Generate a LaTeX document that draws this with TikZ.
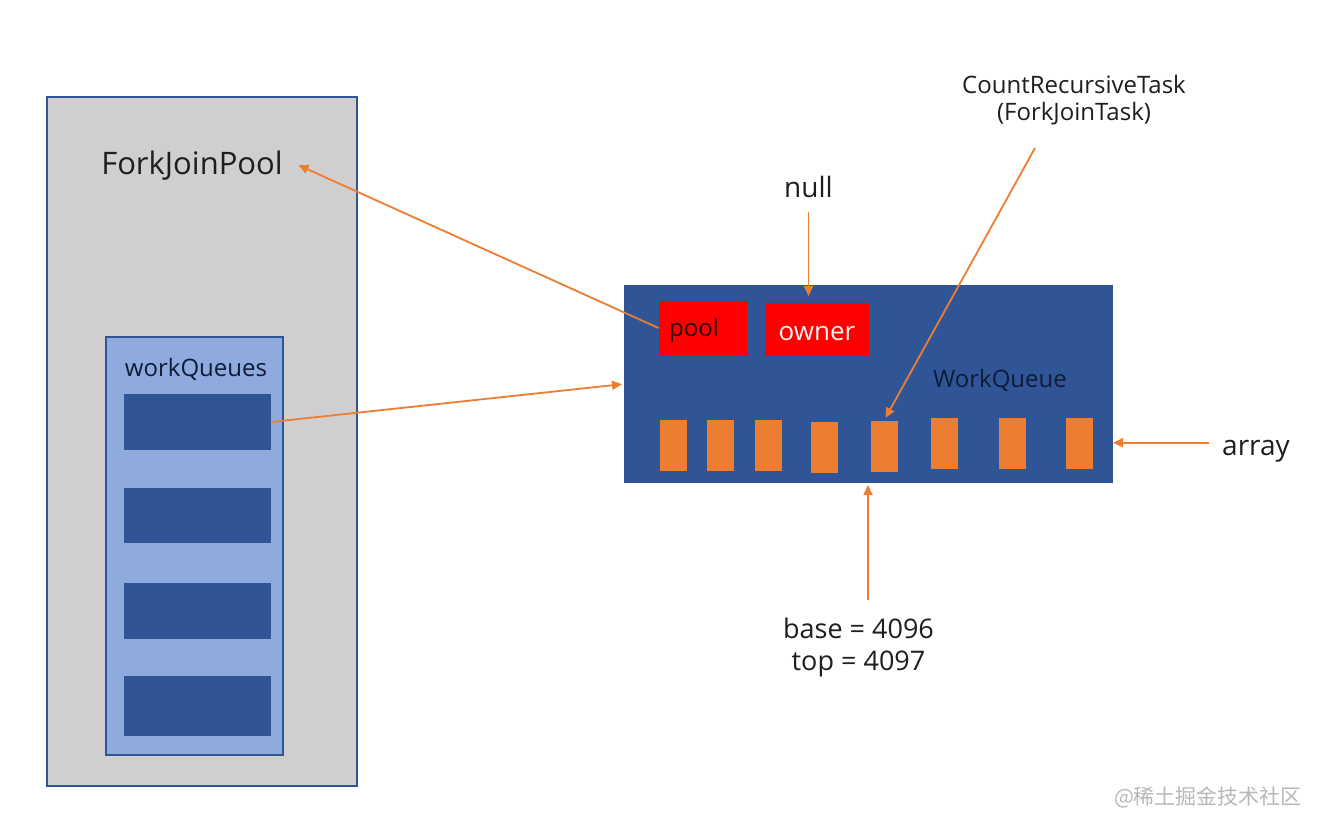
\documentclass[tikz,border=0pt]{standalone}
\usepackage{fontspec}
\setmainfont{Open Sans}
\newfontfamily\cjkfont{Noto Sans CJK SC}
\usepackage{tikz}
\usetikzlibrary{arrows.meta,positioning,calc}
\definecolor{qblue}{HTML}{2F5597}
\definecolor{qlight}{HTML}{8FAADC}
\definecolor{qgray}{HTML}{D0CECE}
\definecolor{qorange}{HTML}{ED7D31}
\definecolor{qred}{HTML}{FF0000}
\definecolor{qink}{HTML}{1E1E1E}
\definecolor{qdeep}{HTML}{0E1C38}
\definecolor{qmark}{HTML}{B8B8B8}

\begin{document}
\begin{tikzpicture}[x=1pt,y=-1pt,
  box/.style={rectangle,inner sep=0pt,outer sep=0pt},
  qslot/.style={box,fill=qblue,minimum width=147pt},
  cell/.style={box,fill=qorange,minimum width=27pt,minimum height=51pt},
  field/.style={box,fill=qred},
  lbl/.style={inner sep=0pt,anchor=base,text=qink},
  ref/.style={-{Triangle[length=10pt,width=9pt]},qorange,line width=1.8pt}]
  \useasboundingbox (0,0) rectangle (1335,814);
  \fill[white] (0,0) rectangle (1335,814);
  % ForkJoinPool side
  \node[box,draw=qblue,line width=1.5pt,fill=qgray,minimum width=310pt,minimum height=689pt] (fjpool) at (202,441.5) {};
  \node[lbl,font=\fontsize{31}{36}\selectfont] (fjp) at (192,174) {ForkJoinPool};
  \node[box,draw=qblue,line width=1.5pt,fill=qlight,minimum width=177pt,minimum height=418pt] (wqs) at (194.5,546) {};
  \node[lbl,text=qdeep,font=\fontsize{24}{28}\selectfont] (wqlabel) at (196,376) {workQueues};
  \node[qslot,minimum height=56pt] (q1) at (197.5,422) {};
  \node[qslot,minimum height=55pt] (q2) at (197.5,515.5) {};
  \node[qslot,minimum height=56pt] (q3) at (197.5,611) {};
  \node[qslot,minimum height=60pt] (q4) at (197.5,706) {};
  % WorkQueue
  \node[box,fill=qblue,minimum width=489pt,minimum height=198pt] (wq) at (868.5,384) {};
  \node[field,minimum width=88pt,minimum height=54pt] (pool) at (702.5,328) {};
  \node[lbl,text=black!85!qred,font=\fontsize{24}{28}\selectfont] at (694,336) {pool};
  \node[field,minimum width=104pt,minimum height=53pt] (owner) at (817,329.5) {};
  \node[lbl,text=white!95!black,font=\fontsize{26}{30}\selectfont] at (817,340) {owner};
  \node[lbl,text=qdeep,font=\fontsize{24}{28}\selectfont] at (1000,387) {WorkQueue};
  \node[cell] (s1) at (673.5,445.5) {};
  \node[cell] (s2) at (720,445.5) {};
  \node[cell] (s3) at (768,445.5) {};
  \node[cell] (s4) at (824.5,447.5) {};
  \node[cell] (s5) at (884,446) {};
  \node[cell] (s6) at (944.5,443.5) {};
  \node[cell] (s7) at (1012.5,443.5) {};
  \node[cell] (s8) at (1079,443.5) {};
  % labels around the queue
  \node[lbl,font=\fontsize{28}{32}\selectfont] (null) at (808.5,197) {null};
  \node[lbl,align=center,font=\fontsize{24}{26.5}\selectfont] (crt) at (1074,120) {CountRecursiveTask\\(ForkJoinTask)};
  \node[lbl,font=\fontsize{28}{32}\selectfont] (arr) at (1256,455) {array};
  \node[lbl,align=center,font=\fontsize{27}{32}\selectfont] (bt) at (858.5,670) {base = 4096\\top = 4097};
  \coordinate (crtfoot) at (1035,148);
  \coordinate (btail) at (868,600);
  \draw[ref,shorten >=17pt] (pool.west) -- ([yshift=7pt]fjp.east);
  \draw[ref,shorten >=2pt] (q1.east) -- (wq.west);
  \draw[ref,shorten <=15pt,shorten >=7pt] (null.south) -- (null.south |- owner.north);
  \draw[ref,shorten >=3pt] (crtfoot) -- (s5.north);
  \draw[ref,shorten <=13pt] ([yshift=8pt]arr.west) -- ([yshift=8pt]arr.west -| wq.east);
  \draw[ref,shorten >=2pt] (btail) -- (btail |- wq.south);
  \node[text=qmark,font=\cjkfont\fontsize{21}{24}\selectfont] (mark) at (1208,797) {@稀土掘金技术社区};
\end{tikzpicture}
\end{document}
